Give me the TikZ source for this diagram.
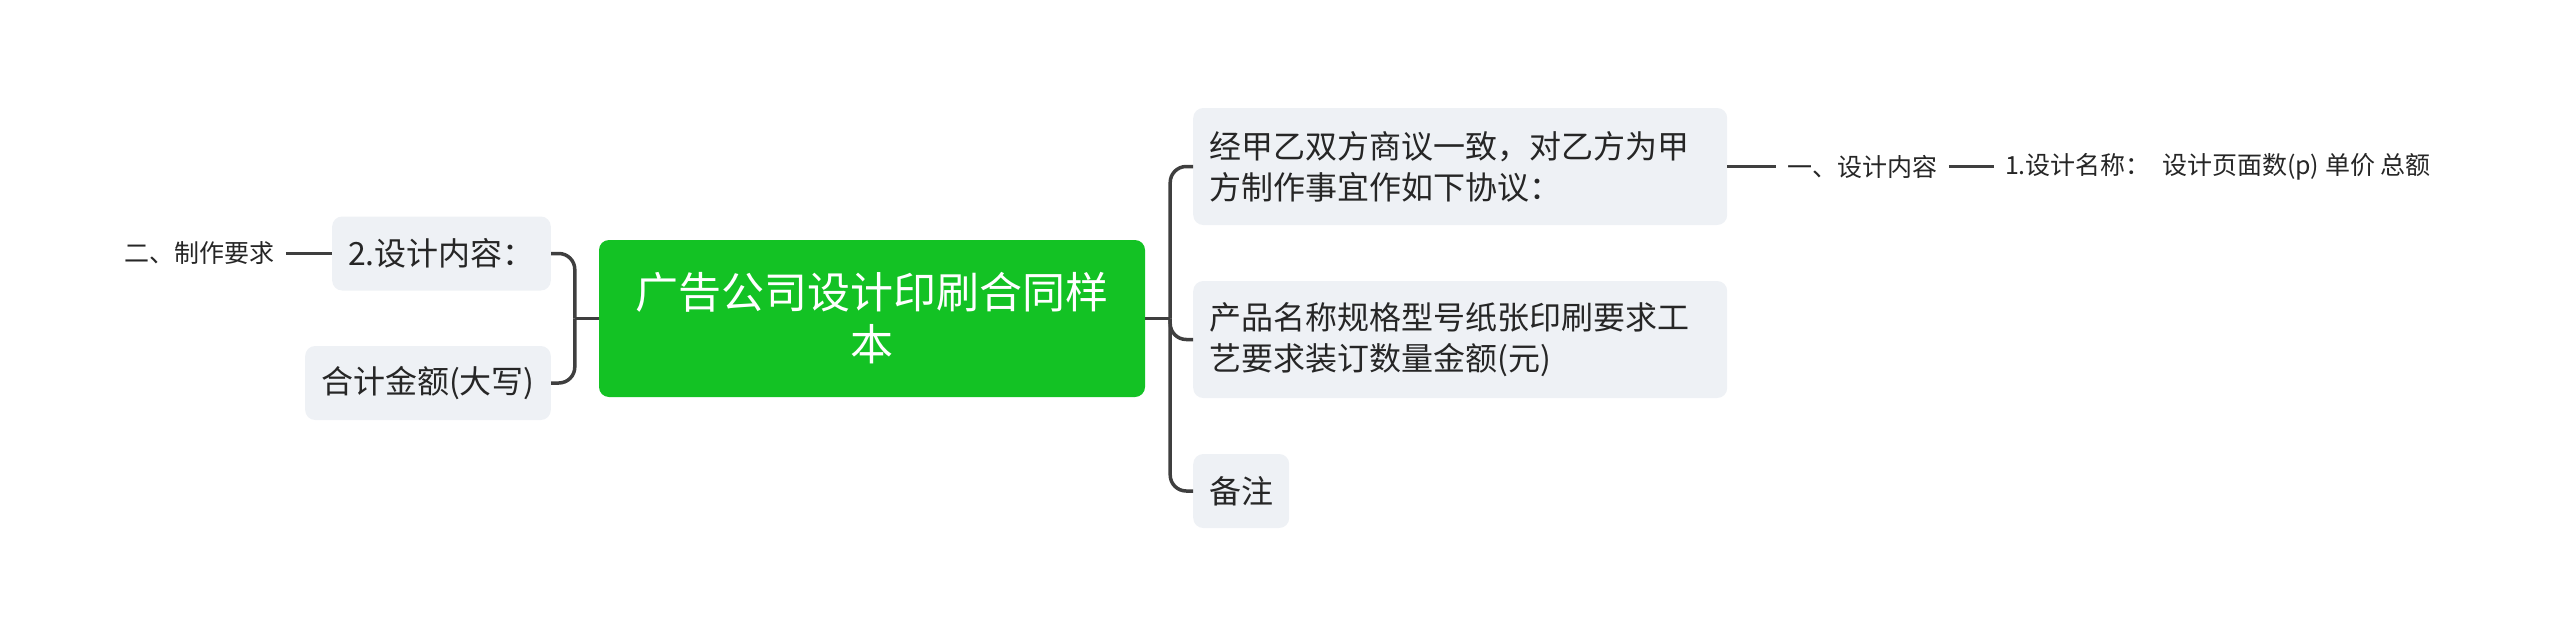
\documentclass[tikz,border=0pt]{standalone}
\usepackage{fontspec}
\newfontfamily\cjk{Noto Sans CJK SC}
\usepackage{xcolor}
\usetikzlibrary{positioning}
\definecolor{topicgreen}{HTML}{13C224}
\definecolor{subgray}{HTML}{EEF1F5}
\definecolor{linkgray}{HTML}{3F3F3F}
\definecolor{textdark}{HTML}{262626}

\begin{document}
\begin{tikzpicture}[x=1pt, y=-1pt,
    root/.style={rounded corners=10pt, fill=topicgreen, text=white, align=center, minimum width=546pt, minimum height=157pt, font=\cjk\fontsize{43pt}{52pt}\selectfont},
    sub/.style={rounded corners=10pt, fill=subgray, text=textdark, inner xsep=16pt, minimum height=74pt, font=\cjk\fontsize{32pt}{41pt}\selectfont},
    leaf/.style={text=textdark, inner sep=11pt, font=\cjk\fontsize{25pt}{30pt}\selectfont},
    link/.style={draw=linkgray, line width=3.5pt, rounded corners=16pt}]
    \useasboundingbox (0,0) rectangle (2560,637);
    \node[root] (C) at (872,318.5) {广告公司设计印刷合同样\\本};

    \node[sub, anchor=east] (A) at (551,253.5) {2.设计内容：};
    \node[sub, anchor=east] (B) at (551,383) {合计金额(大写)};
    \node[leaf, left=46pt of A] (A1) {二、制作要求};

    \node[sub, anchor=west, minimum height=117pt, text width=502pt, align=left] (R1) at (1193,166.5) {经甲乙双方商议一致，对乙方为甲\\方制作事宜作如下协议：};
    \node[sub, anchor=west, minimum height=117pt, text width=502pt, align=left] (R2) at (1193,339.5) {产品名称规格型号纸张印刷要求工\\艺要求装订数量金额(元)};
    \node[sub, anchor=west] (R3) at (1193,491) {备注};
    \node[leaf, right=49pt of R1] (L1) {一、设计内容};
    \node[leaf, right=45pt of L1] (L2) {1.设计名称：~ 设计页面数(p) 单价 总额};

    \coordinate[right=25pt of C] (rj);
    \coordinate[left=24pt of C] (lj);
    \draw[link] (C.east) -- (rj);
    \foreach \n in {R1,R2,R3} \draw[link] (rj) |- (\n.west);
    \draw[link] (C.west) -- (lj);
    \foreach \n in {A,B} \draw[link] (lj) |- (\n.east);
    \draw[link] (R1.east) -- (L1.west);
    \draw[link] (L1.east) -- (L2.west);
    \draw[link] (A1.east) -- (A.west);
\end{tikzpicture}
\end{document}
